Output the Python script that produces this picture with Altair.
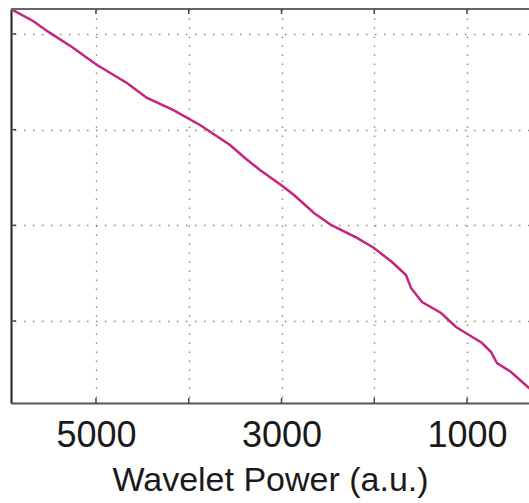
import altair as alt
import pandas as pd

# Wavelet power (x, drawn decreasing to the right) against the vertical coordinate
power = [5916, 5679, 5496, 5259, 4989, 4666, 4450, 4170, 3879, 3717, 3555, 3394,
         3232, 3005, 2865, 2650, 2466, 2186, 2003, 1809, 1658, 1604, 1485, 1280,
         1119, 978, 838, 741, 677, 526, 332, 213]
level = [4.261, 4.136, 4.011, 3.864, 3.676, 3.488, 3.331, 3.206, 3.049, 2.944,
         2.840, 2.704, 2.578, 2.422, 2.317, 2.129, 2.004, 1.868, 1.763, 1.617,
         1.481, 1.345, 1.199, 1.084, 0.937, 0.854, 0.770, 0.676, 0.561, 0.467,
         0.300, 0.206]

x_ticks = [1000, 2000, 3000, 4000, 5000]
x_labelled = [1000, 3000, 5000]
y_ticks = [1, 2, 3, 4]

X_DOMAIN = [332, 5916]
Y_DOMAIN = [0.143, 4.261]
W, H = 518, 394
FONT = "Liberation Sans"

curve = pd.DataFrame({"power": power, "level": level})
xt = pd.DataFrame({"power": x_ticks})
yt = pd.DataFrame({"level": y_ticks})

x_scale = alt.Scale(domain=X_DOMAIN, reverse=True, nice=False, zero=False)
y_scale = alt.Scale(domain=Y_DOMAIN, nice=False, zero=False)

label_expr = "indexof([" + ",".join(str(v) for v in x_labelled) + "], datum.value) >= 0 ? datum.value : ''"

line = alt.Chart(curve).mark_line(color="#c8237d", strokeWidth=2.5, clip=True).encode(
    x=alt.X("power:Q", scale=x_scale,
            axis=alt.Axis(values=x_ticks, labelExpr=label_expr, format="d",
                          title="Wavelet Power (a.u.)", grid=True,
                          gridDash=[1.6, 7.4], gridColor="#8a8a8a", gridWidth=1.4,
                          domainColor="#555555", domainWidth=2, ticks=False,
                          labelFont=FONT, labelFontSize=36, labelColor="#1a1a1a",
                          labelPadding=15, titleFont=FONT, titleFontSize=34,
                          titleFontWeight="normal", titleColor="#1a1a1a",
                          titlePadding=10)),
    y=alt.Y("level:Q", scale=y_scale,
            axis=alt.Axis(values=y_ticks, labels=False, title=None, grid=True,
                          gridDash=[1.6, 7.4], gridColor="#8a8a8a", gridWidth=1.4,
                          domainColor="#222222", domainWidth=2, ticks=False)),
)

# Frame line along the top of the plot area
top = alt.Chart(xt).mark_rule(color="#666666", strokeWidth=2).encode(
    x=alt.value(0), x2=alt.value(W), y=alt.value(0)
)

# Short inward tick marks on the bottom, top and left edges
bottom_ticks = alt.Chart(xt).mark_rule(color="#444444", strokeWidth=1.5).encode(
    x=alt.X("power:Q", scale=x_scale), y=alt.value(H), y2=alt.value(H - 5)
)
top_ticks = alt.Chart(xt).mark_rule(color="#444444", strokeWidth=1.5).encode(
    x=alt.X("power:Q", scale=x_scale), y=alt.value(0), y2=alt.value(5)
)
left_ticks = alt.Chart(yt).mark_rule(color="#444444", strokeWidth=1.5).encode(
    y=alt.Y("level:Q", scale=y_scale), x=alt.value(0), x2=alt.value(5)
)

chart = alt.layer(line, top, bottom_ticks, top_ticks, left_ticks).properties(
    width=W, height=H,
    autosize=alt.AutoSizeParams(type="none"),
    padding={"left": 11, "top": 9, "right": 0, "bottom": 100},
    background="white",
).configure_view(stroke=None)

chart.save("out.html", embed_options={"renderer": "svg", "actions": False})
